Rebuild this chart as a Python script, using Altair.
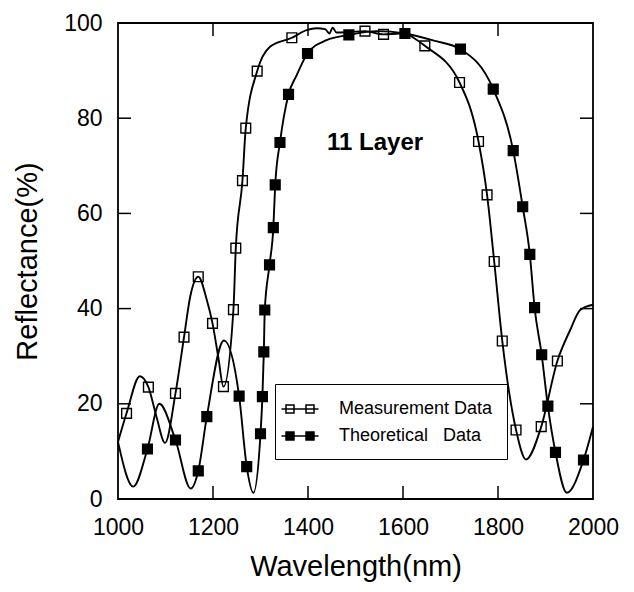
import altair as alt
import pandas as pd

# ---- data ----
meas_line_x = [1000, 1018, 1046, 1064, 1081, 1099, 1121, 1139, 1152, 1169, 1187, 1199, 1211, 1222,
               1243, 1248, 1262, 1269, 1293, 1320, 1366, 1397, 1418, 1436, 1445, 1452, 1460, 1486,
               1520, 1559, 1594, 1604, 1622, 1646, 1719, 1759, 1777, 1792, 1809, 1838, 1859, 1891,
               1925, 1952, 1973, 2000]
meas_line_y = [12.0, 18.0, 25.8, 23.5, 17.3, 11.8, 22.2, 34.0, 42.5, 46.7, 41.8, 36.9, 29.9, 23.6,
               39.8, 52.7, 66.9, 77.9, 89.9, 95.0, 96.9, 98.5, 98.9, 98.7, 97.8, 99.0, 98.0, 98.1,
               98.3, 97.6, 97.8, 97.8, 96.9, 95.2, 87.5, 75.1, 63.9, 49.9, 33.2, 14.5, 8.3, 15.2,
               29.0, 35.5, 39.7, 40.8]

meas_pts_x = [1018, 1064, 1121, 1139, 1169, 1199, 1222, 1243, 1248, 1262, 1269, 1293, 1366, 1520,
              1559, 1646, 1719, 1759, 1777, 1792, 1809, 1838, 1891, 1925]
meas_pts_y = [18.0, 23.5, 22.2, 34.0, 46.7, 36.9, 23.6, 39.8, 52.7, 66.9, 77.9, 89.9, 96.9, 98.3,
              97.6, 95.2, 87.5, 75.1, 63.9, 49.9, 33.2, 14.5, 15.2, 29.0]

theo_line_x = [1000, 1032, 1062, 1087, 1121, 1153, 1169, 1187, 1223, 1255, 1271, 1285, 1300, 1304,
               1307, 1309, 1319, 1327, 1331, 1341, 1359, 1376, 1399, 1439, 1486, 1545, 1604, 1665,
               1721, 1790, 1832, 1852, 1867, 1877, 1892, 1905, 1921, 1945, 1980, 2000]
theo_line_y = [12.0, 2.6, 10.5, 20.0, 12.4, 2.2, 5.9, 17.3, 33.3, 21.6, 6.8, 1.3, 13.7, 21.5,
               30.9, 39.7, 49.2, 57.0, 66.0, 74.9, 85.0, 89.0, 93.6, 96.4, 97.5, 98.3, 97.8, 96.3,
               94.5, 86.1, 73.2, 61.4, 51.4, 40.2, 30.3, 19.5, 9.8, 1.3, 8.2, 15.2]

theo_pts_x = [1062, 1121, 1169, 1187, 1255, 1271, 1300, 1304, 1307, 1309, 1319, 1327, 1331, 1341,
              1359, 1399, 1486, 1604, 1721, 1790, 1832, 1852, 1867, 1877, 1892, 1905, 1921, 1980]
theo_pts_y = [10.5, 12.4, 5.9, 17.3, 21.6, 6.8, 13.7, 21.5, 30.9, 39.7, 49.2, 57.0, 66.0, 74.9,
              85.0, 93.6, 97.5, 97.8, 94.5, 86.1, 73.2, 61.4, 51.4, 40.2, 30.3, 19.5, 9.8, 8.2]

series_names = ["Measurement Data", "Theoretical\u00a0\u00a0\u00a0Data"]
x_ticks = [1000, 1200, 1400, 1600, 1800, 2000]
y_ticks = [0, 20, 40, 60, 80, 100]
inner_x_ticks = [1200, 1400, 1600, 1800]
inner_y_ticks = [20, 40, 60, 80]
annot_text = ["11 Layer"]
annot_x = [1440]
annot_y = [74.8]

FONT = "Liberation Sans"

lines = pd.concat([
    pd.DataFrame({"wl": meas_line_x, "r": meas_line_y, "s": series_names[0]}),
    pd.DataFrame({"wl": theo_line_x, "r": theo_line_y, "s": series_names[1]}),
])
pts = pd.concat([
    pd.DataFrame({"wl": meas_pts_x, "r": meas_pts_y, "s": series_names[0]}),
    pd.DataFrame({"wl": theo_pts_x, "r": theo_pts_y, "s": series_names[1]}),
])

xs = alt.Scale(domain=[1000, 2000], nice=False)
ys = alt.Scale(domain=[0, 100], nice=False)

xax = alt.Axis(values=x_ticks, format="d", ticks=False, domain=False, grid=False,
               labelFontSize=23, labelPadding=17, titleFontSize=29, titlePadding=13,
               labelFont=FONT, titleFont=FONT, titleFontWeight="normal", labelColor="black",
               titleColor="black", labelFlush=False)
yax = alt.Axis(values=y_ticks, format="d", ticks=False, domain=False, grid=False,
               labelFontSize=23, labelPadding=16, titleFontSize=29, titlePadding=21,
               labelFont=FONT, titleFont=FONT, titleFontWeight="normal", labelColor="black",
               titleColor="black", labelFlush=False)

line_layer = alt.Chart(lines).mark_line(
    color="black", strokeWidth=1.9, interpolate="monotone"
).encode(
    x=alt.X("wl:Q", scale=xs, axis=xax, title="Wavelength(nm)"),
    y=alt.Y("r:Q", scale=ys, axis=yax, title="Reflectance(%)"),
    detail="s:N",
)

# legend glyph: a line with two small squares
sym_path = "M-1.85,0H1.85M-1.4,-0.4H-0.6V0.4H-1.4ZM0.6,-0.4H1.4V0.4H0.6Z"

pt_layer = alt.Chart(pts).mark_point(
    shape="square", filled=True, stroke="black", strokeWidth=1.4, opacity=1, size=95
).encode(
    x=alt.X("wl:Q", scale=xs),
    y=alt.Y("r:Q", scale=ys),
    fill=alt.Fill("s:N", scale=alt.Scale(domain=series_names, range=["transparent", "black"]),
                  legend=alt.Legend(
                      title=None, orient="none", legendX=157, legendY=361,
                      symbolType=sym_path, symbolSize=400, symbolStrokeColor="black",
                      symbolStrokeWidth=1.5, labelFontSize=18, labelFont=FONT,
                      labelColor="black", labelOffset=28, padding=14, rowPadding=7,
                      strokeColor="black", fillColor="white", labelLimit=400)),
)

tick_x = pd.DataFrame({"t": inner_x_ticks})
tick_y = pd.DataFrame({"t": inner_y_ticks})
TL = 13
bottom_ticks = alt.Chart(tick_x).mark_rule(color="black", strokeWidth=1.5).encode(
    x=alt.X("t:Q", scale=xs), y=alt.value(476), y2=alt.value(476 - TL))
top_ticks = alt.Chart(tick_x).mark_rule(color="black", strokeWidth=1.5).encode(
    x=alt.X("t:Q", scale=xs), y=alt.value(0), y2=alt.value(TL))
left_ticks = alt.Chart(tick_y).mark_rule(color="black", strokeWidth=1.5).encode(
    y=alt.Y("t:Q", scale=ys), x=alt.value(0), x2=alt.value(TL))
right_ticks = alt.Chart(tick_y).mark_rule(color="black", strokeWidth=1.5).encode(
    y=alt.Y("t:Q", scale=ys), x=alt.value(475), x2=alt.value(475 - TL))

annot = alt.Chart(pd.DataFrame({"t": annot_text, "x": annot_x, "y": annot_y})).mark_text(
    align="left", baseline="middle", fontSize=24, fontWeight="bold", font=FONT, color="black"
).encode(x=alt.X("x:Q", scale=xs), y=alt.Y("y:Q", scale=ys), text="t:N")

chart = alt.layer(
    line_layer, pt_layer, bottom_ticks, top_ticks, left_ticks, right_ticks, annot
).properties(
    width=475, height=476,
    padding={"left": 110, "top": 15, "right": 33, "bottom": 85},
    autosize=alt.AutoSizeParams(type="none"),
    background="white",
).configure_view(stroke="black", strokeWidth=1.8)

chart.save("out.html", embed_options={"renderer": "svg", "actions": False})
